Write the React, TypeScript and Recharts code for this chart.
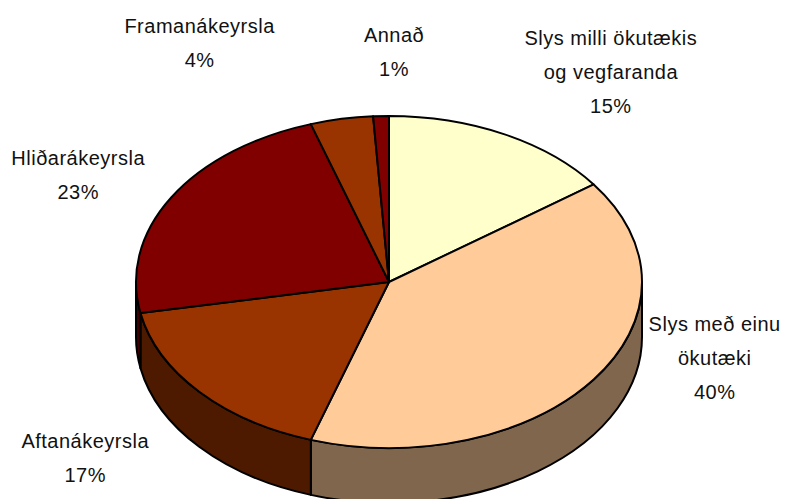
import { PieChart, Pie, Cell } from 'recharts';

const categories = [
  'Slys milli ökutækis\nog vegfaranda',
  'Slys með einu\nökutæki',
  'Aftanákeyrsla',
  'Hliðarákeyrsla',
  'Framanákeyrsla',
  'Annað',
];
const shares = [15, 40, 17, 23, 4, 1];

const COLORS = ['#FFFFCC', '#FFCC99', '#993300', '#800000', '#993300', '#800000'];

// label block nudges from the rim point at each slice's mid angle
const LABEL_OFFSET = [
  [107, -62],
  [121, -22],
  [-114, 66],
  [-93, -22],
  [-142, -76],
  [13, -64],
];

const RAD = Math.PI / 180;
const SQUASH = 166 / 253;
const DEPTH = 55;
const LINE = 34;

const data = categories.map((name, i) => ({ name, value: shares[i] }));

const shade = (hex: string) => {
  const n = parseInt(hex.slice(1), 16);
  const r = Math.round(((n >> 16) & 255) / 2);
  const g = Math.round(((n >> 8) & 255) / 2);
  const b = Math.round((n & 255) / 2);
  return `rgb(${r},${g},${b})`;
};

const rim = (cx: number, cy: number, r: number, a: number) => [
  cx + r * Math.cos(a * RAD),
  cy - r * SQUASH * Math.sin(a * RAD),
];

function TopFace(props: any) {
  const { cx, cy, outerRadius, startAngle, endAngle, fill } = props;
  const hi = Math.max(startAngle, endAngle);
  const lo = Math.min(startAngle, endAngle);
  const [x1, y1] = rim(cx, cy, outerRadius, hi);
  const [x2, y2] = rim(cx, cy, outerRadius, lo);
  const large = hi - lo > 180 ? 1 : 0;
  const ry = outerRadius * SQUASH;
  return (
    <path
      d={`M${cx},${cy}L${x1},${y1}A${outerRadius},${ry} 0 ${large} 1 ${x2},${y2}Z`}
      fill={fill}
      stroke='#000'
      strokeWidth={2}
      strokeLinejoin='round'
    />
  );
}

function SideWall(props: any) {
  const { cx, cy, outerRadius, startAngle, endAngle, fill } = props;
  const hi = Math.max(startAngle, endAngle);
  const lo = Math.min(startAngle, endAngle);
  const ry = outerRadius * SQUASH;
  const paths: string[] = [];
  // the front half of the rim is where the angle lies in (-180, 0) mod 360
  for (let k = -2; k <= 1; k++) {
    const a1 = Math.min(hi, 360 * k);
    const a2 = Math.max(lo, -180 + 360 * k);
    if (a1 <= a2) continue;
    const [x1, y1] = rim(cx, cy, outerRadius, a1);
    const [x2, y2] = rim(cx, cy, outerRadius, a2);
    paths.push(
      `M${x1},${y1}A${outerRadius},${ry} 0 0 1 ${x2},${y2}` +
        `L${x2},${y2 + DEPTH}A${outerRadius},${ry} 0 0 0 ${x1},${y1 + DEPTH}Z`
    );
  }
  if (!paths.length) return <g />;
  return (
    <g>
      {paths.map((d, i) => (
        <path
          key={i}
          d={d}
          fill={shade(fill)}
          stroke='#000'
          strokeWidth={2}
          strokeLinejoin='round'
        />
      ))}
    </g>
  );
}

const renderLabel = (props: any) => {
  const { cx, cy, midAngle, outerRadius, index } = props;
  const [rx, ry] = rim(cx, cy, outerRadius, midAngle);
  const x = rx + LABEL_OFFSET[index][0];
  const y = ry + LABEL_OFFSET[index][1];
  const lines = [...categories[index].split('\n'), `${shares[index]}%`];
  const first = y - ((lines.length - 1) * LINE) / 2 + 7;
  return (
    <text
      x={x}
      y={first}
      textAnchor='middle'
      fontFamily='Liberation Sans, Arial, sans-serif'
      fontSize={20}
      letterSpacing={0.5}
      fill='#111'
    >
      {lines.map((line, i) => (
        <tspan key={i} x={x} y={first + i * LINE}>
          {line}
        </tspan>
      ))}
    </text>
  );
};

export default function App() {
  return (
    <div
      style={{
        position: 'absolute',
        left: 0,
        top: 0,
        width: 791,
        height: 499,
        background: '#fff',
      }}
    >
      <PieChart width={791} height={499} margin={{ top: 0, right: 0, bottom: 0, left: 0 }}>
        <Pie
          data={data}
          dataKey='value'
          nameKey='name'
          cx={389}
          cy={282}
          outerRadius={253}
          startAngle={90}
          endAngle={-270}
          isAnimationActive={false}
          shape={SideWall}
          activeShape={SideWall}
          inactiveShape={SideWall}
          label={false}
          labelLine={false}
        >
          {data.map((_, i) => (
            <Cell key={i} fill={COLORS[i]} />
          ))}
        </Pie>
        <Pie
          data={data}
          dataKey='value'
          nameKey='name'
          cx={389}
          cy={282}
          outerRadius={253}
          startAngle={90}
          endAngle={-270}
          isAnimationActive={false}
          shape={TopFace}
          activeShape={TopFace}
          inactiveShape={TopFace}
          label={renderLabel}
          labelLine={false}
        >
          {data.map((_, i) => (
            <Cell key={i} fill={COLORS[i]} />
          ))}
        </Pie>
      </PieChart>
    </div>
  );
}
